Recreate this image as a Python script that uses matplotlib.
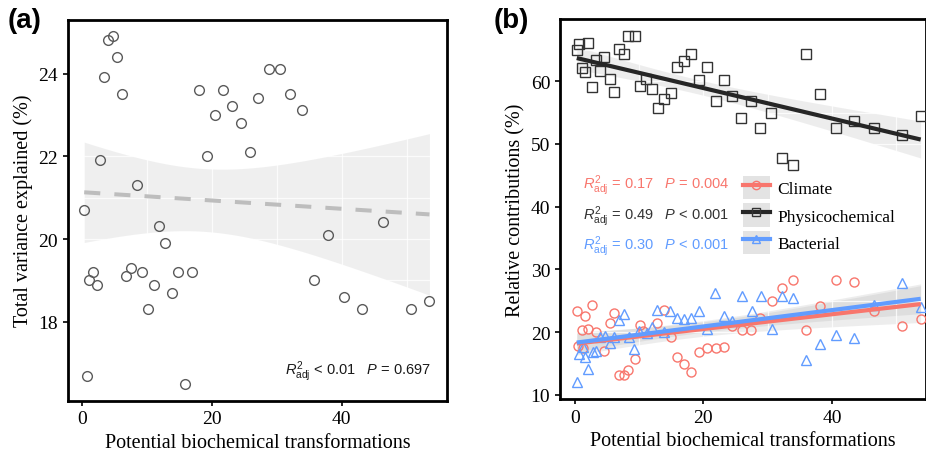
import numpy as np
import matplotlib
matplotlib.use("Agg")
import matplotlib.pyplot as plt
from matplotlib.lines import Line2D
from matplotlib.patches import Patch
from matplotlib.legend_handler import HandlerTuple
from matplotlib.ticker import MultipleLocator

plt.rcParams["font.family"] = ["Liberation Serif", "DejaVu Serif"]
plt.rcParams["mathtext.fontset"] = "custom"
plt.rcParams["mathtext.rm"] = "Liberation Sans"
plt.rcParams["mathtext.it"] = "Liberation Sans:italic"

# (a) total variance explained vs potential biochemical transformations
tv_x = [3.9, 4.7, 5.4, 3.3, 6.1, 18.0, 21.7, 23.1, 20.5, 24.4, 19.2, 25.8, 2.7, 8.4,
        0.3, 11.8, 27.1, 28.8, 30.4, 32.0, 33.8, 46.4, 12.8, 1.6, 1.1, 2.2, 7.5, 6.8,
        9.2, 11.0, 14.8, 16.9, 13.8, 10.1, 0.7, 15.8, 37.9, 35.7, 40.4, 43.1, 50.6, 53.5]
tv_y = [24.81, 24.92, 24.41, 23.91, 23.51, 23.61, 23.61, 23.22, 23.01, 22.81, 22.01,
        22.11, 21.91, 21.31, 20.71, 20.32, 23.41, 24.11, 24.11, 23.51, 23.11, 20.41,
        19.91, 19.20, 19.00, 18.90, 19.30, 19.10, 19.20, 18.90, 19.20, 19.20, 18.70,
        18.30, 16.70, 16.50, 20.10, 19.00, 18.60, 18.30, 18.30, 18.50]

# (b) relative contributions of each driver group
phys_x = [0.6, 2.1, 0.3, 8.3, 9.3, 6.8, 7.6, 4.6, 3.3, 1.1, 1.6, 3.9, 5.4, 2.7, 6.1,
          11.0, 10.1, 12.0, 14.9, 13.9, 12.9, 15.9, 17.0, 18.1, 20.6, 19.3, 23.2, 21.9,
          24.5, 27.4, 25.9, 28.8, 35.9, 38.1, 30.5, 32.2, 34.0, 40.6, 43.4, 46.6, 50.9, 53.8]
phys_y = [65.9, 66.05, 64.9, 67.2, 67.2, 65.1, 64.3, 63.9, 63.3, 62.1, 61.5, 61.7, 60.4,
          59.1, 58.2, 60.3, 59.3, 58.8, 58.1, 57.1, 55.7, 62.3, 63.2, 64.4, 62.2, 60.2,
          60.2, 56.8, 57.6, 56.8, 54.2, 52.6, 64.3, 58.0, 55.0, 47.7, 46.6, 52.6, 53.6,
          52.5, 51.4, 54.4]

clim_x = [0.3, 1.6, 2.7, 6.1, 5.4, 1.1, 2.1, 3.3, 0.5, 1.2, 4.6, 8.3, 9.3, 6.9, 7.6,
          10.1, 10.6, 12.8, 13.9, 14.9, 15.9, 17.0, 18.1, 19.3, 20.6, 21.9, 23.2, 24.5,
          26.0, 27.4, 28.8, 30.6, 32.2, 34.0, 35.9, 38.1, 40.6, 43.4, 46.6, 50.9, 53.8]
clim_y = [23.4, 22.5, 24.4, 23.0, 21.4, 20.4, 20.5, 20.0, 17.8, 17.5, 17.0, 14.0, 15.7,
          13.1, 13.1, 21.1, 20.2, 21.4, 23.5, 19.2, 16.1, 15.0, 13.6, 16.9, 17.5, 17.5,
          17.7, 21.0, 20.4, 20.3, 22.2, 24.9, 27.1, 28.3, 20.4, 24.1, 28.3, 28.0, 23.4,
          21.0, 22.1]

bact_x = [0.3, 0.6, 1.6, 2.1, 1.3, 2.8, 3.3, 3.9, 4.7, 5.4, 6.1, 6.9, 7.6, 8.4, 9.2,
          10.0, 11.3, 12.0, 12.8, 13.9, 14.8, 15.9, 17.0, 18.1, 19.3, 20.6, 21.8, 23.2,
          24.5, 26.0, 29.0, 27.5, 30.6, 32.2, 34.0, 35.9, 38.1, 40.6, 43.4, 46.6, 50.9, 53.8]
bact_y = [12.1, 16.5, 16.0, 14.1, 17.6, 16.9, 17.0, 19.3, 19.4, 18.3, 19.2, 22.0, 22.9,
          19.2, 17.3, 20.2, 19.9, 20.9, 23.6, 20.1, 23.3, 22.2, 22.1, 22.3, 23.3, 20.5,
          26.2, 22.5, 21.7, 25.7, 25.8, 23.3, 20.5, 25.7, 25.4, 15.6, 18.1, 19.6, 19.1,
          24.3, 27.8, 24.0]

groups = ["Climate", "Physicochemical", "Bacterial"]
stats = [r"$R^2_{\mathrm{adj}}$ = 0.17   $P$ = 0.004",
         r"$R^2_{\mathrm{adj}}$ = 0.49   $P$ < 0.001",
         r"$R^2_{\mathrm{adj}}$ = 0.30   $P$ < 0.001"]
stat_a = r"$R^2_{\mathrm{adj}}$ < 0.01   $P$ = 0.697"


def lm_fit(x, y, t_crit=2.02):
    """Least-squares line with a 95% confidence band for the mean."""
    x = np.asarray(x, float)
    y = np.asarray(y, float)
    b1, b0 = np.polyfit(x, y, 1)
    xs = np.linspace(x.min(), x.max(), 100)
    fit = b0 + b1 * xs
    resid = y - (b0 + b1 * x)
    s = np.sqrt(np.sum(resid ** 2) / (len(x) - 2))
    se = s * np.sqrt(1 / len(x) + (xs - x.mean()) ** 2 / np.sum((x - x.mean()) ** 2))
    return xs, fit, fit - t_crit * se, fit + t_crit * se


def style_axes(ax):
    for sp in ax.spines.values():
        sp.set_linewidth(2.0)
    ax.tick_params(which="major", direction="out", length=3.5, width=1.2,
                   labelsize=14, colors="black")
    ax.tick_params(which="minor", length=0)
    ax.set_axisbelow("line")
    ax.grid(which="both", color="white", lw=0.9, alpha=0.8)


fig = plt.figure(figsize=(9.26, 4.56), dpi=100)
ax1 = fig.add_axes([0.0734, 0.119, 0.4093, 0.836])
ax2 = fig.add_axes([0.6048, 0.123, 0.3950, 0.833])

# panel (a)
xs, fit, lo, hi = lm_fit(tv_x, tv_y)
ax1.fill_between(xs, lo, hi, color="#999999", alpha=0.15, lw=0, zorder=0.5)
ax1.plot(xs, fit, color="#bdbdbd", lw=2.9, ls=(0, (4, 3.5)), zorder=3)
ax1.plot(tv_x, tv_y, ls="none", marker="o", ms=7, mfc="none", mec="#5a5a5a",
         mew=1.0, zorder=4)
ax1.set_xlim(-2.2, 56.2)
ax1.set_ylim(16.09, 25.31)
ax1.xaxis.set_major_locator(MultipleLocator(20))
ax1.xaxis.set_minor_locator(MultipleLocator(10))
ax1.yaxis.set_major_locator(MultipleLocator(2))
ax1.yaxis.set_minor_locator(MultipleLocator(1))
style_axes(ax1)
ax1.set_xlabel("Potential biochemical transformations", fontsize=14.5)
ax1.set_ylabel("Total variance explained (%)", fontsize=14.5)
ax1.text(0.958, 0.078, stat_a, transform=ax1.transAxes, ha="right", va="center",
         fontsize=10.5, family="Liberation Sans", color="#1a1a1a")

# panel (b)
series = [
    (clim_x, clim_y, "#F8766D", "o"),
    (phys_x, phys_y, "#333333", "s"),
    (bact_x, bact_y, "#619CFF", "^"),
]
line_cols = ["#F8766D", "#262626", "#619CFF"]
text_cols = ["#F8766D", "#333333", "#619CFF"]
handles = []
for (x, y, col, mk), lc in zip(series, line_cols):
    xs, fit, lo, hi = lm_fit(x, y)
    ax2.fill_between(xs, lo, hi, color="#999999", alpha=0.17, lw=0, zorder=0.5)
    ax2.plot(x, y, ls="none", marker=mk, ms=7.5 if mk == "^" else 6.5, mfc="none",
             mec=col, mew=1.0, zorder=3)
    ax2.plot(xs, fit, color=lc, lw=3.0, zorder=4, solid_capstyle="butt")
    handles.append((Patch(facecolor="#e3e3e3", edgecolor="none"),
                    Line2D([], [], color=lc, lw=3.0, marker=mk, ms=6, mfc="none",
                           mec=col, mew=1.0)))

ax2.set_xlim(-2.3, 54.6)
ax2.set_ylim(9.36, 69.9)
ax2.xaxis.set_major_locator(MultipleLocator(20))
ax2.xaxis.set_minor_locator(MultipleLocator(10))
ax2.yaxis.set_major_locator(MultipleLocator(10))
ax2.yaxis.set_minor_locator(MultipleLocator(5))
style_axes(ax2)
ax2.set_xlabel("Potential biochemical transformations", fontsize=14.5)
ax2.set_ylabel("Relative contributions (%)", fontsize=14.5)

for i, (txt, col) in enumerate(zip(stats, text_cols)):
    ax2.text(0.063, 0.563 - i * 0.08, txt, transform=ax2.transAxes, ha="left",
             va="center", fontsize=10.5, family="Liberation Sans", color=col)

ax2.legend(handles, groups, handler_map={tuple: HandlerTuple(ndivide=1)},
           loc="upper left", bbox_to_anchor=(0.48, 0.605), frameon=False,
           fontsize=12.5, handlelength=1.6, handleheight=1.7, labelspacing=0.22,
           handletextpad=0.4, borderaxespad=0)

fig.text(0.008, 0.955, "(a)", fontsize=20, fontweight="bold", family="Liberation Sans",
         va="center", ha="left")
fig.text(0.533, 0.955, "(b)", fontsize=20, fontweight="bold", family="Liberation Sans",
         va="center", ha="left")

fig.savefig("out.png", dpi=100)
